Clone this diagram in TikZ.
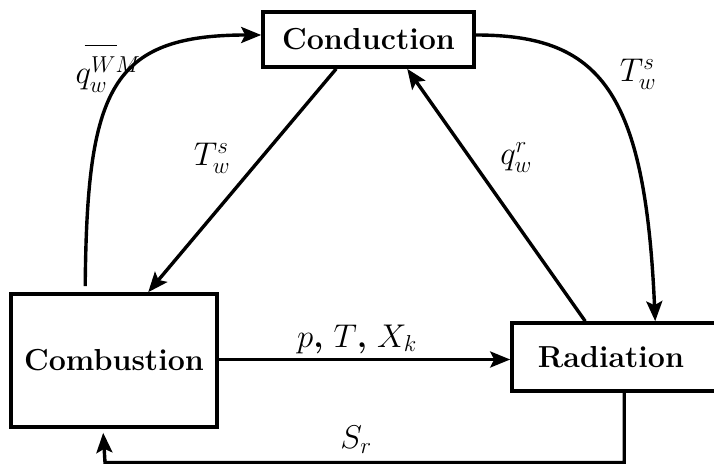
\RequirePackage{fix-cm}
\documentclass[tikz,border=0pt]{standalone}
\usetikzlibrary{arrows.meta,calc}
\begin{document}
\begin{tikzpicture}[x=1bp,y=-1bp,
  box/.style={draw,line width=3.6bp,inner sep=0pt,font=\fontsize{30.5}{36}\selectfont\bfseries},
  lbl/.style={font=\fontsize{33}{38}\selectfont,inner sep=0pt},
  arr/.style={line width=3.4bp,-{Stealth[length=20bp,width=16bp,inset=4bp]}}]
\useasboundingbox (0,0) rectangle (714,464);
\clip (0,0) rectangle (714,464);
\node[box,minimum width=211bp,minimum height=55bp] (cond) at (368.5,39.5) {Conduction};
\node[box,minimum width=206bp,minimum height=133bp] (comb) at (114,360.5) {Combustion};
\node[box,minimum width=212bp,minimum height=68bp] (rad) at (618,357) {\hspace*{-14bp}Radiation};
% Conduction -> Combustion
\draw[arr] ([xshift=75bp]cond.south west) -- ([xshift=139bp]comb.north west);
% Radiation -> Conduction
\draw[arr] ([xshift=75bp]rad.north west) -- ([xshift=146bp]cond.south west);
% Combustion -> Radiation
\draw[arr] ([yshift=1bp]comb.east) -- ([yshift=1bp]comb.east -| rad.west);
% Radiation -> Combustion (S_r)
\coordinate (bot) at (105,462.5);
\draw[arr] ([xshift=114bp]rad.south west) |- (bot) -- ([xshift=94bp,yshift=-4bp]comb.south west);
% Combustion -> Conduction (curve)
\draw[arr] ([xshift=76bp,yshift=6bp]comb.north west) .. controls (87,90) and (110,35) .. ([yshift=4.5bp]cond.west);
% Conduction -> Radiation (curve)
\draw[arr] ([yshift=4.5bp]cond.east) .. controls (600,35) and (645,90) .. ([xshift=145bp]rad.north west);
% labels
\node[lbl,anchor=base] (l1) at (108,84) {\rlap{\hspace{9bp}\rule[38bp]{32bp}{1.3bp}}$q_w^{WM}$};
\node[lbl] (l2) at (212,158) {$T_w^s$};
\node[lbl] (l3) at (516,158) {$q_w^r$};
\node[lbl] (l4) at (638,74) {$T_w^s$};
\node[lbl] (l5) at (357,339) {$p$\textbf{,} $T$\textbf{,} $X_k$};
\node[lbl] (l6) at (356,440) {$S_r$};
\end{tikzpicture}
\end{document}
